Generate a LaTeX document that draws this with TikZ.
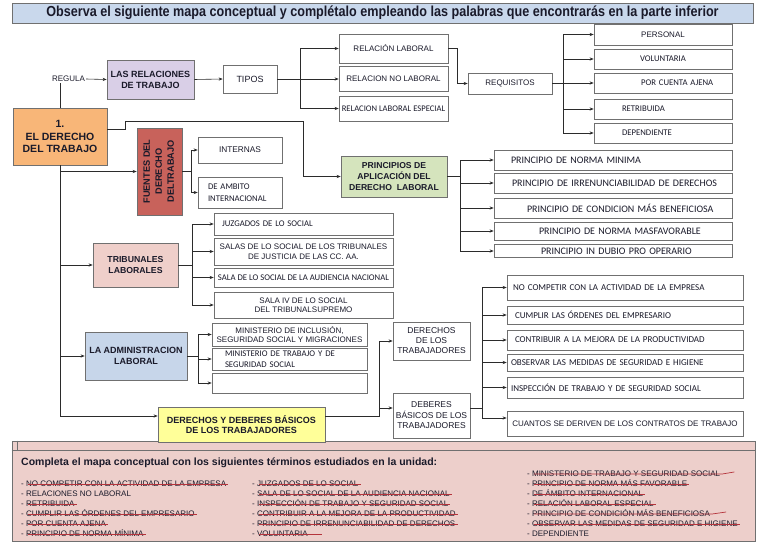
\documentclass[tikz,border=0pt]{standalone}
\usepackage{fontspec}
\usepackage{graphicx}
\setmainfont{Liberation Sans}
\newfontfamily\calibri{Carlito}
\usetikzlibrary{arrows.meta}
\definecolor{titlebg}{HTML}{C9D8EC}
\definecolor{lav}{HTML}{D9CFE7}
\definecolor{orng}{HTML}{F8B678}
\definecolor{fred}{HTML}{C8625B}
\definecolor{pgreen}{HTML}{D5E4BD}
\definecolor{tpink}{HTML}{EFCFCA}
\definecolor{ablue}{HTML}{C7D6EA}
\definecolor{dyell}{HTML}{FFFF99}
\definecolor{panelc}{HTML}{EDCFCB}
\definecolor{strk}{HTML}{B5343C}
\definecolor{edge}{HTML}{707070}
\definecolor{lnc}{HTML}{2B2B2B}
\definecolor{txt}{HTML}{1A1A2A}
\tikzset{
  box/.style={draw=edge, line width=0.7pt, inner sep=1pt, align=center, text=txt},
  wbox/.style={box, fill=white},
  tbox/.style={box, font=\bfseries\fontsize{9}{11}\selectfont},
  ar/.style={font=\fontsize{8}{9.5}\selectfont},
  cb/.style={font=\calibri\fontsize{8.7}{11}\selectfont},
  pc/.style={font=\calibri\fontsize{10}{12}\selectfont},
  dc/.style={font=\calibri\fontsize{9}{11}\selectfont},
  lbox/.style 2 args={align=left, inner xsep=#1, text width=#2},
  conn/.style={draw=lnc, line width=0.6pt},
  arr/.style={conn, -{Stealth[length=4pt,width=3.2pt]}},
  item/.style={anchor=west, inner sep=0pt, font=\fontsize{8}{9}\selectfont, text height=5.8pt, text depth=0pt, text=txt},
  strike/.style={draw=strk, line width=0.7pt}
}
\begin{document}
\begin{tikzpicture}[x=1pt,y=-1pt]
\useasboundingbox (0,0) rectangle (768,543);
\fill[white] (0,0) rectangle (768,543);

% bottom panel
\node[draw=edge, fill=panelc, line width=0.7pt, minimum width=743, minimum height=100, inner sep=0pt] (pan) at (383.5,491) {};
\draw[draw=edge, line width=0.6pt] ([yshift=-10pt]pan.north west) -- ([yshift=-10pt]pan.north east);
\draw[draw=edge, line width=0.6pt] ([xshift=6pt]pan.north west) -- ([xshift=6pt,yshift=-10pt]pan.north west);

% title
\node[box, fill=titlebg, minimum width=741, minimum height=20, font=\bfseries] (title) at (382.5,13)
  {\scalebox{0.87}[1]{\fontsize{14.5}{16}\selectfont Observa el siguiente mapa conceptual y complétalo empleando las palabras que encontrarás en la parte inferior}};

% main
\node[tbox, fill=orng, minimum width=94, minimum height=57, font=\bfseries\fontsize{10.5}{12.5}\selectfont] (main) at (60,136.5) {1.\\EL DERECHO\\DEL TRABAJO};
\node[ar, inner sep=1pt, text=txt] (reg) at (68.5,79) {REGULA};
\node[tbox, fill=lav, minimum width=87, minimum height=39] (rel) at (150.5,79.5) {LAS RELACIONES\\DE TRABAJO};
\node[wbox, font=\fontsize{9}{10}\selectfont, minimum width=54, minimum height=28] (tipos) at (250,79) {TIPOS};

\node[wbox, ar, minimum width=109, minimum height=29] (rl) at (393.5,48.5) {RELACIÓN LABORAL};
\node[wbox, ar, minimum width=109, minimum height=25] (rnl) at (393.5,79) {RELACION NO LABORAL};
\node[wbox, font=\calibri\fontsize{8.6}{10}\selectfont, minimum width=109, minimum height=25] (rle) at (393.5,108.5) {RELACION LABORAL ESPECIAL};
\node[wbox, ar, minimum width=84, minimum height=21] (req) at (510,83.5) {REQUISITOS};

\node[wbox, ar, minimum width=138, minimum height=21] (r1) at (663,34.5) {PERSONAL};
\node[wbox, cb, minimum width=138, minimum height=20] (r2) at (663,59) {VOLUNTARIA};
\node[wbox, cb, lbox={47}{44}, minimum height=20] (r3) at (663,83) {\mbox{POR CUENTA AJENA}};
\node[wbox, cb, lbox={28}{82}, minimum height=20] (r4) at (663,109) {\mbox{RETRIBUIDA}};
\node[wbox, cb, lbox={28}{82}, minimum height=20] (r5) at (663,133) {\mbox{DEPENDIENTE}};

% fuentes
\node[box, fill=fred, minimum width=45, minimum height=87, font=\bfseries\fontsize{9.2}{12}\selectfont] (fue) at (159.5,171.5)
  {\rotatebox{90}{\begin{tabular}{@{}c@{}}FUENTES DEL\\DERECHO\\DELTRABAJO\end{tabular}}};
\node[wbox, font=\fontsize{8.3}{10}\selectfont, minimum width=84, minimum height=26] (int) at (240,150) {INTERNAS};
\node[wbox, lbox={10}{64}, minimum height=31, font=\calibri\fontsize{8.7}{12}\selectfont] (amb) at (240,192.5) {DE AMBITO\\INTERNACIONAL};

% principios
\node[tbox, fill=pgreen, minimum width=106, minimum height=41, font=\bfseries\fontsize{8.6}{11}\selectfont] (pri) at (394,176.5) {PRINCIPIOS DE\\APLICACIÓN DEL\\DERECHO\ \ LABORAL};
\node[wbox, pc, lbox={17}{204}, minimum height=20] (p1) at (613,160) {\mbox{PRINCIPIO DE NORMA MINIMA}};
\node[wbox, pc, lbox={18}{202}, minimum height=20] (p2) at (613,183) {\mbox{PRINCIPIO DE IRRENUNCIABILIDAD DE DERECHOS}};
\node[wbox, pc, lbox={33}{172}, minimum height=20] (p3) at (613,208) {\mbox{PRINCIPIO DE CONDICION MÁS BENEFICIOSA}};
\node[wbox, pc, lbox={45}{148}, minimum height=18] (p4) at (613,231) {\mbox{PRINCIPIO DE NORMA MASFAVORABLE}};
\node[wbox, pc, lbox={47}{144}, minimum height=13] (p5) at (613,251) {\mbox{PRINCIPIO IN DUBIO PRO OPERARIO}};

% tribunales
\node[tbox, fill=tpink, minimum width=85, minimum height=44, font=\bfseries\fontsize{8.7}{10.5}\selectfont] (tri) at (135.5,265) {TRIBUNALES\\LABORALES};
\node[wbox, cb, lbox={8}{163}, minimum height=22] (t1) at (303.5,224) {\mbox{JUZGADOS DE LO SOCIAL}};
\node[wbox, ar, minimum width=179, minimum height=27] (t2) at (303.5,251.5) {SALAS DE LO SOCIAL DE LOS TRIBUNALES\\DE JUSTICIA DE LAS CC. AA.};
\node[wbox, font=\calibri\fontsize{8.7}{10}\selectfont, minimum width=179, minimum height=19] (t3) at (303.5,277.5) {SALA DE LO SOCIAL DE LA AUDIENCIA NACIONAL};
\node[wbox, ar, minimum width=179, minimum height=26] (t4) at (303.5,305) {SALA IV DE LO SOCIAL\\DEL TRIBUNALSUPREMO};

% administracion
\node[tbox, fill=ablue, minimum width=102, minimum height=48] (adm) at (136,356) {LA ADMINISTRACION\\LABORAL};
\node[wbox, font=\fontsize{8}{9.5}\selectfont, minimum width=155, minimum height=23] (a1) at (289.5,334.5) {MINISTERIO DE INCLUSIÓN,\\SEGURIDAD SOCIAL Y MIGRACIONES};
\node[wbox, lbox={13}{129}, minimum height=22, font=\calibri\fontsize{8.7}{10.5}\selectfont] (a2) at (289.5,359) {MINISTERIO DE TRABAJO Y DE\\SEGURIDAD SOCIAL};
\node[wbox, minimum width=155, minimum height=20] (a3) at (289.5,383) {};

% derechos y deberes
\node[tbox, fill=dyell, minimum width=167, minimum height=35, font=\bfseries\fontsize{9}{10.5}\selectfont] (dyd) at (241.5,424.5) {DERECHOS Y DEBERES BÁSICOS\\DE LOS TRABAJADORES};
\node[wbox, font=\fontsize{8.5}{10}\selectfont, minimum width=77, minimum height=38] (der) at (431.5,341) {DERECHOS\\DE LOS\\TRABAJADORES};
\node[wbox, font=\fontsize{8.5}{10.5}\selectfont, minimum width=77, minimum height=45] (deb) at (431.5,415.5) {DEBERES\\BÁSICOS DE LOS\\TRABAJADORES};

\node[wbox, dc, lbox={6}{224}, minimum height=25] (d1) at (625,287.5) {\mbox{NO COMPETIR CON LA ACTIVIDAD DE LA EMPRESA}};
\node[wbox, dc, lbox={8}{220}, minimum height=18] (d2) at (625,315) {\mbox{CUMPLIR LAS ÓRDENES DEL EMPRESARIO}};
\node[wbox, dc, lbox={8}{220}, minimum height=20] (d3) at (625,340) {\mbox{CONTRIBUIR A LA MEJORA DE LA PRODUCTIVIDAD}};
\node[wbox, dc, lbox={4}{228}, minimum height=17] (d4) at (625,362.5) {\mbox{OBSERVAR LAS MEDIDAS DE SEGURIDAD E HIGIENE}};
\node[wbox, dc, lbox={4}{228}, minimum height=21] (d5) at (625,387.5) {\mbox{INSPECCIÓN DE TRABAJO Y DE SEGURIDAD SOCIAL}};
\node[wbox, ar, minimum width=236, minimum height=25] (d6) at (625,424) {CUANTOS SE DERIVEN DE LOS CONTRATOS DE TRABAJO};

% ---- connectors
\draw[conn] (main.north) -- (main.north |- reg.south);
\draw[arr] (reg.east) -- (rel.west);
\draw[arr] (rel.east) -- (tipos.west);

\coordinate (tp) at (300,79);
\draw[conn] (tipos.east) -- (tp);
\draw[conn] (tp |- rl.west) -- (tp |- rle.west);
\draw[arr] (tp |- rl.west) -- (rl.west);
\draw[arr] (tp |- rnl.west) -- (rnl.west);
\draw[arr] (tp |- rle.west) -- (rle.west);

\coordinate (rq) at (457,0);
\draw[arr] (rl.east) -- (rq |- rl.east) -- (rq |- req.west) -- (req.west);

\coordinate (rr) at (563,0);
\draw[conn] (req.east) -- (rr |- req.east);
\draw[conn] (rr |- r1.west) -- (rr |- r5.west);
\foreach \n in {r1,r2,r3,r4,r5} \draw[arr] (rr |- \n.west) -- (\n.west);

\coordinate (m1) at (125,121);
\coordinate (m2) at (303,121);
\draw[arr] ([yshift=7.5pt]main.east) -| (m1) -- (m2) |- (pri.west);

\coordinate (tk) at (60,416);
\draw[conn] (main.south) -- (tk);
\draw[arr] (main.south |- fue.west) -- (fue.west);
\draw[arr] (main.south |- tri.west) -- (tri.west);
\draw[arr] (main.south |- adm.west) -- (adm.west);
\draw[arr] (tk) -- (tk -| dyd.west);

\coordinate (fb) at (191,0);
\draw[conn] (fue.east) -- (fb |- fue.east);
\draw[conn] (fb |- int.west) -- (fb |- amb.west);
\draw[arr] (fb |- int.west) -- (int.west);
\draw[arr] (fb |- amb.west) -- (amb.west);

\coordinate (pb) at (460,0);
\draw[conn] (pri.east) -- (pb |- pri.east);
\draw[conn] (pb |- p1.west) -- (pb |- p5.west);
\foreach \n in {p1,p2,p3,p4,p5} \draw[arr] (pb |- \n.west) -- (\n.west);

\coordinate (tb) at (192,0);
\draw[conn] (tri.east) -- (tb |- tri.east);
\draw[conn] (tb |- t1.west) -- (tb |- t4.west);
\foreach \n in {t1,t2,t3,t4} \draw[arr] (tb |- \n.west) -- (\n.west);

\coordinate (ab) at (198,0);
\draw[conn] (adm.east) -- (ab |- adm.east);
\draw[conn] (ab |- a1.west) -- (ab |- a3.west);
\foreach \n in {a1,a2,a3} \draw[arr] (ab |- \n.west) -- (\n.west);

\coordinate (db) at (379,416);
\coordinate (dbb) at (379,408);
\draw[conn] (db -| dyd.east) -- (db) -- (db |- der.west);
\draw[arr] (db |- der.west) -- (der.west);
\draw[arr] (dbb) -- (dbb -| deb.west);

\coordinate (eb) at (482,408);
\coordinate (e6) at (482,418);
\draw[conn] (eb -| deb.east) -- (eb);
\draw[conn] (eb |- d1.west) -- (e6);
\foreach \n in {d1,d2,d3,d4,d5} \draw[arr] (eb |- \n.west) -- (\n.west);
\draw[arr] (e6) -- (e6 -| d6.west);

% ---- bottom list
\node[anchor=west, inner sep=0pt, text=txt, font=\bfseries\fontsize{10.5}{12}\selectfont] (hd) at (21,463) {Completa el mapa conceptual con los siguientes términos estudiados en la unidad:};

\node[item] (c1a) at (21,484) {- NO COMPETIR CON LA ACTIVIDAD DE LA EMPRESA};
\node[item] (c1b) at (21,494) {- RELACIONES NO LABORAL};
\node[item] (c1c) at (21,504) {- RETRIBUIDA};
\node[item] (c1d) at (21,514) {- CUMPLIR LAS ÓRDENES DEL EMPRESARIO};
\node[item] (c1e) at (21,524) {- POR CUENTA AJENA};
\node[item] (c1f) at (21,534) {- PRINCIPIO DE NORMA MÍNIMA};

\node[item] (c2a) at (252,484) {- JUZGADOS DE LO SOCIAL};
\node[item] (c2b) at (252,494) {- SALA DE LO SOCIAL DE LA AUDIENCIA NACIONAL};
\node[item] (c2c) at (252,504) {- INSPECCIÓN DE TRABAJO Y SEGURIDAD SOCIAL};
\node[item] (c2d) at (252,514) {- CONTRIBUIR A LA MEJORA DE LA PRODUCTIVIDAD};
\node[item] (c2e) at (252,524) {- PRINCIPIO DE IRRENUNCIABILIDAD DE DERECHOS};
\node[item] (c2f) at (252,534) {- VOLUNTARIA};

\node[item] (c3a) at (527,474) {- MINISTERIO DE TRABAJO Y SEGURIDAD SOCIAL};
\node[item] (c3b) at (527,484) {- PRINCIPIO DE NORMA MÁS FAVORABLE};
\node[item] (c3c) at (527,494) {- DE ÁMBITO INTERNACIONAL};
\node[item] (c3d) at (527,504) {- RELACIÓN LABORAL ESPECIAL};
\node[item] (c3e) at (527,514) {- PRINCIPIO DE CONDICIÓN MÁS BENEFICIOSA};
\node[item] (c3f) at (527,524) {- OBSERVAR LAS MEDIDAS DE SEGURIDAD E HIGIENE};
\node[item] (c3g) at (527,534) {- DEPENDIENTE};

\foreach \n in {c1a,c1c,c1d,c1e,c1f,c2a,c2b,c2c,c2d,c2e,c3b,c3c,c3d,c3f}
  \draw[strike] ([xshift=7pt]\n.west) -- ([xshift=2pt]\n.east);
\draw[strike] ([xshift=7pt]c2f.west) -- ([xshift=14pt]c2f.east);
\draw[strike] ([xshift=7pt]c3a.west) -- ([xshift=2pt]c3a.east) -- ++(12,-2);
\draw[strike] ([xshift=7pt]c3e.west) -- ([xshift=2pt]c3e.east) -- ++(14,-2);
\end{tikzpicture}
\end{document}
